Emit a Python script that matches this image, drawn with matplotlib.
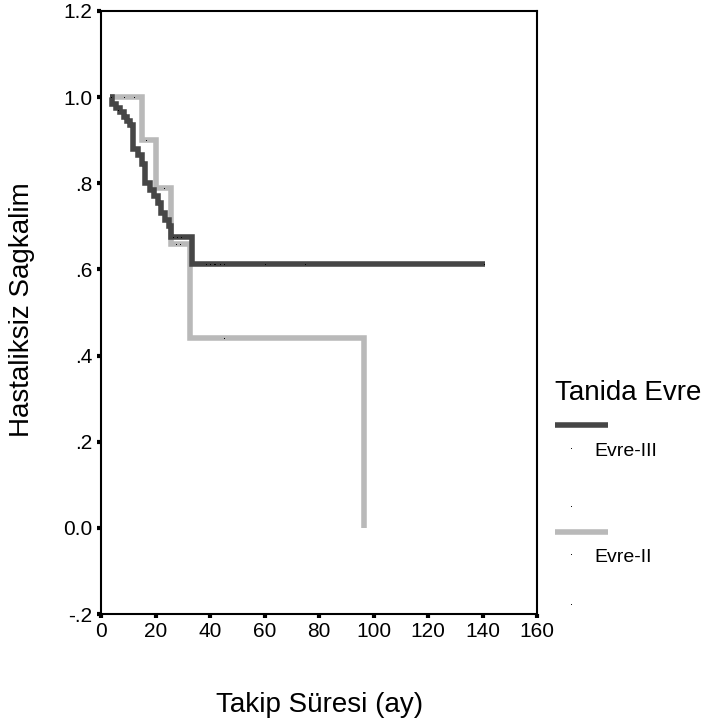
import matplotlib
matplotlib.use("Agg")
import matplotlib.pyplot as plt
from matplotlib.lines import Line2D

plt.rcParams['font.family'] = ['Liberation Sans', 'DejaVu Sans']

# ---- Kaplan-Meier steps ----
# Evre-III (dark)
iii_t = [3.3, 4.2, 5.5, 6.8, 8.5, 9.5, 10.5, 11.8, 13.5, 15.0, 16.3, 17.8,
         19.5, 21.0, 22.0, 23.5, 24.8, 25.6, 33.5, 141.0]
iii_s = [1.0, 0.985, 0.975, 0.965, 0.955, 0.945, 0.935, 0.88, 0.865, 0.845,
         0.80, 0.785, 0.77, 0.755, 0.73, 0.715, 0.70, 0.675, 0.612, 0.612]
iii_cens_t = [6.3, 26.5, 28.0, 29.5, 38.5, 40.0, 41.4, 42.0, 43.6, 45.0,
              60.0, 74.7, 140.7]
iii_cens_s = [0.97, 0.675, 0.675, 0.675, 0.612, 0.612, 0.612, 0.612, 0.612,
              0.612, 0.612, 0.612, 0.612]

# Evre-II (light)
ii_t = [3.3, 14.9, 20.0, 25.6, 32.6, 96.5, 96.5]
ii_s = [1.0, 0.90, 0.79, 0.66, 0.44, 0.44, 0.0]
ii_cens_t = [3.5, 8.5, 12.2, 16.5, 23.0, 27.5, 29.0, 45.0]
ii_cens_s = [1.0, 1.0, 1.0, 0.90, 0.79, 0.66, 0.66, 0.44]

x_ticks = [0, 20, 40, 60, 80, 100, 120, 140, 160]
y_ticks = [-0.2, 0.0, 0.2, 0.4, 0.6, 0.8, 1.0, 1.2]
y_labels = ["-.2", "0.0", ".2", ".4", ".6", ".8", "1.0", "1.2"]

dark = "#464646"
light = "#b9b9b9"

W, H = 708, 728
fig = plt.figure(figsize=(W / 100, H / 100), dpi=100)
ax = fig.add_axes([101 / W, 1 - 614 / H, 436 / W, 603 / H])

ax.step(ii_t, ii_s, where="post", color=light, lw=4, solid_joinstyle="miter",
        solid_capstyle="butt", zorder=2)
ax.step(iii_t, iii_s, where="post", color=dark, lw=4, solid_joinstyle="miter",
        solid_capstyle="butt", zorder=3)
ax.plot(ii_cens_t, ii_cens_s, ls="none", marker="s", ms=0.7, mew=0,
        color="black", zorder=4)
ax.plot(iii_cens_t, iii_cens_s, ls="none", marker="s", ms=0.7, mew=0,
        color="black", zorder=4)

ax.set_xlim(0, 160)
ax.set_ylim(-0.2, 1.2)
ax.set_xticks(x_ticks)
ax.set_yticks(y_ticks)
ax.set_yticklabels(y_labels)
for s in ax.spines.values():
    s.set_linewidth(1.5)
ax.tick_params(direction="out", length=3, width=3, labelsize=15, pad=3)

ax.set_xlabel("Takip Süresi (ay)", fontsize=20)
ax.xaxis.set_label_coords((320 - 101) / 436, (614 - 705) / 603)
ax.xaxis.label.set_va("center")
ax.set_ylabel("Hastaliksiz Sagkalim", fontsize=20)
ax.yaxis.set_label_coords((22 - 101) / 436, (614 - 310) / 603)
ax.yaxis.label.set_va("center")

# ---- legend, SPSS style ----
def fx(px):
    return px / W

def fy(py):
    return 1 - py / H

fig.text(fx(555), fy(393), "Tanida Evre", fontsize=20, va="center", ha="left")
fig.add_artist(Line2D([fx(555), fx(608)], [fy(425), fy(425)], color=dark,
                      lw=4, solid_capstyle="butt"))
fig.text(fx(594), fy(451), "Evre-III", fontsize=14, va="center", ha="left")
fig.add_artist(Line2D([fx(555), fx(608)], [fy(532), fy(532)], color=light,
                      lw=4, solid_capstyle="butt"))
fig.text(fx(594), fy(558), "Evre-II", fontsize=14, va="center", ha="left")
for py in [448, 506, 554, 604]:
    fig.add_artist(Line2D([fx(571)], [fy(py)], ls="none", marker="s", ms=0.6,
                          mew=0, color="black"))

fig.savefig("out.png", dpi=100)
